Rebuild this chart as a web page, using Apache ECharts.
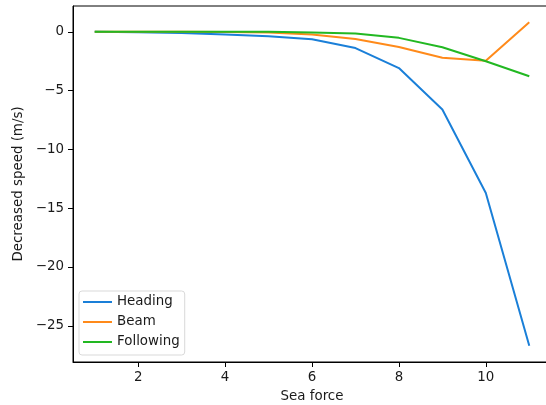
<!DOCTYPE html>
<html>
<head>
<meta charset="utf-8">
<script src="https://cdn.jsdelivr.net/npm/echarts@6/dist/echarts.min.js"></script>
<style>
  html, body { margin: 0; padding: 0; background: #fff; }
  #chart { width: 546px; height: 405px; }
</style>
</head>
<body>
<div id="chart"></div>
<script>
// sea force levels
const seaForce = [1, 2, 3, 4, 5, 6, 7, 8, 9, 10, 11];
// decreased speed per heading (m/s)
const heading = [0, -0.03, -0.1, -0.23, -0.37, -0.63, -1.38, -3.08, -6.6, -13.7, -26.7];
const beam = [0, 0, 0, -0.01, -0.05, -0.23, -0.6, -1.28, -2.2, -2.45, 0.82];
const following = [0, 0, 0, 0, 0, -0.05, -0.14, -0.51, -1.31, -2.5, -3.77];
const xTicks = [2, 4, 6, 8, 10];
const yTicks = [-25, -20, -15, -10, -5, 0];

const colors = ['#1a7fd8', '#ff8a1a', '#22b822'];

function pairs(ys) {
  return seaForce.map((x, i) => [x, ys[i]]);
}

function fmt(v) {
  return v < 0 ? '\u2212' + (-v) : String(v);
}

function render() {
  const chart = echarts.init(document.getElementById('chart'), null, {
    width: 546,
    height: 405
  });
  const font = 'DejaVu Sans';
  const txt = '#1a1a1a';
  const fs = 13.4;
  const axisCommon = {
    axisLine: { show: true, onZero: false, lineStyle: { color: '#000', width: 1 } },
    axisTick: { show: true, length: 5, lineStyle: { color: '#000', width: 1 } },
    splitLine: { show: false },
    nameTextStyle: { fontFamily: font, fontSize: fs, color: txt }
  };
  const line = (name, data, color) => ({
    name: name,
    type: 'line',
    data: pairs(data),
    symbol: 'none',
    lineStyle: { color: color, width: 2 },
    itemStyle: { color: color }
  });
  chart.setOption({
    animation: false,
    grid: {
      left: 73,
      top: 6,
      width: 478,
      height: 356,
      containLabel: false,
      outerBoundsMode: 'none',
      show: true,
      borderColor: '#000',
      borderWidth: 1
    },
    legend: {
      left: 79,
      top: 291,
      orient: 'vertical',
      icon: 'path://M0,0H29V2H0Z',
      itemWidth: 29,
      itemHeight: 2,
      itemGap: 6,
      itemTextGap: 10,
      padding: [4, 5, 6, 4],
      borderColor: '#d9d9d9',
      borderWidth: 1,
      borderRadius: 3,
      backgroundColor: 'rgba(255,255,255,0.8)',
      textStyle: { fontFamily: font, fontSize: fs, lineHeight: 14, color: txt },
      data: ['Heading', 'Beam', 'Following']
    },
    xAxis: Object.assign({}, axisCommon, {
      type: 'value',
      min: 0.5,
      max: 11.5,
      name: 'Sea force',
      nameLocation: 'middle',
      nameGap: 28,
      axisTick: Object.assign({}, axisCommon.axisTick, { customValues: xTicks }),
      axisLabel: {
        customValues: xTicks,
        fontFamily: font, fontSize: fs, color: txt, margin: 9,
        formatter: fmt
      }
    }),
    yAxis: Object.assign({}, axisCommon, {
      type: 'value',
      min: -28.08,
      max: 2.2,
      name: 'Decreased speed (m/s)',
      nameLocation: 'middle',
      nameGap: 42,
      axisTick: Object.assign({}, axisCommon.axisTick, { customValues: yTicks }),
      axisLabel: {
        customValues: yTicks,
        fontFamily: font, fontSize: fs, color: txt, margin: 9,
        formatter: fmt
      }
    }),
    series: [
      line('Heading', heading, colors[0]),
      line('Beam', beam, colors[1]),
      line('Following', following, colors[2])
    ]
  });
}

render();
</script>
</body>
</html>
